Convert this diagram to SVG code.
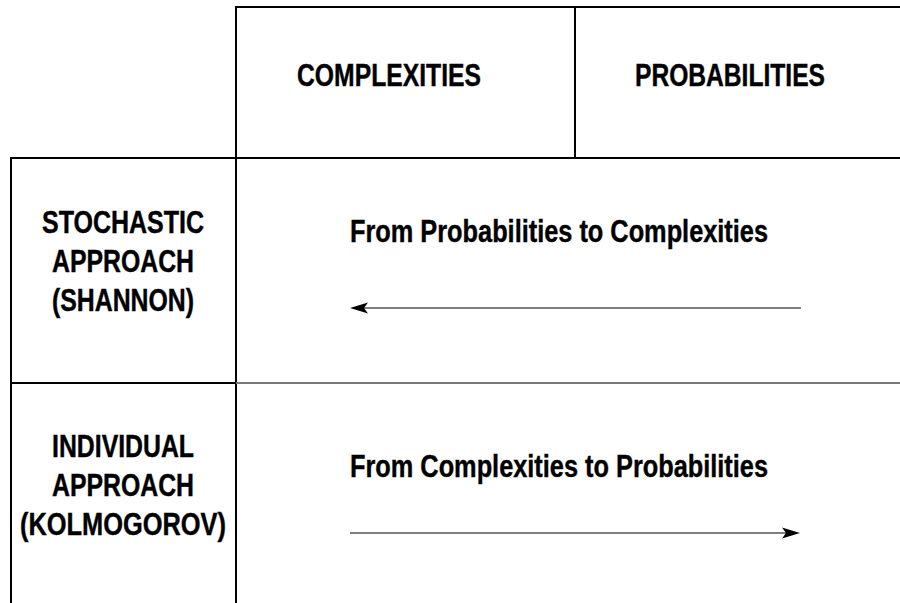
<svg xmlns="http://www.w3.org/2000/svg" width="900" height="603" viewBox="0 0 900 603">
  <style>
    .grid { stroke: #000; stroke-width: 2; fill: none; }
    .soft { stroke: #777; stroke-width: 2; fill: none; }
    .arrow { stroke: #555; stroke-width: 1.5; fill: none; }
    .head { fill: #000; }
    text { font-family: "Liberation Sans", Arial, sans-serif; font-weight: bold; font-size: 31px; fill: #000; stroke: #000; stroke-width: 0.4; text-anchor: middle; }
  </style>

  <!-- table grid -->
  <g id="grid">
    <path class="grid" d="M236 603 V7 H900"/>
    <path class="grid" d="M575 7 V158"/>
    <path class="grid" d="M11 603 V158 H900"/>
    <path class="grid" d="M11 383 H236"/>
    <path class="soft" d="M236 383 H900"/>
  </g>

  <!-- column headers -->
  <g id="col-complexities">
    <text x="389" y="86" textLength="184" lengthAdjust="spacingAndGlyphs">COMPLEXITIES</text>
  </g>
  <g id="col-probabilities">
    <text x="730" y="86" textLength="190" lengthAdjust="spacingAndGlyphs">PROBABILITIES</text>
  </g>

  <!-- row headers -->
  <g id="row-stochastic">
    <text x="123" y="233" textLength="162" lengthAdjust="spacingAndGlyphs">STOCHASTIC</text>
    <text x="123" y="272" textLength="142" lengthAdjust="spacingAndGlyphs">APPROACH</text>
    <text x="123" y="311" textLength="142" lengthAdjust="spacingAndGlyphs">(SHANNON)</text>
  </g>
  <g id="row-individual">
    <text x="123" y="457" textLength="142" lengthAdjust="spacingAndGlyphs">INDIVIDUAL</text>
    <text x="123" y="496" textLength="142" lengthAdjust="spacingAndGlyphs">APPROACH</text>
    <text x="123" y="535" textLength="206" lengthAdjust="spacingAndGlyphs">(KOLMOGOROV)</text>
  </g>

  <!-- cell captions -->
  <g id="cell-stochastic">
    <text x="559" y="242" textLength="418" lengthAdjust="spacingAndGlyphs">From Probabilities to Complexities</text>
  </g>
  <g id="cell-individual">
    <text x="559" y="477" textLength="418" lengthAdjust="spacingAndGlyphs">From Complexities to Probabilities</text>
  </g>

  <!-- connectors -->
  <g id="connectors">
    <line class="arrow" x1="801" y1="308" x2="362" y2="308"/>
    <path class="head" d="M350 308 L368 302.5 L364 308 L368 313.5 Z"/>
    <line class="arrow" x1="350" y1="533" x2="788" y2="533"/>
    <path class="head" d="M800 533 L782 527.5 L786 533 L782 538.5 Z"/>
  </g>
</svg>
